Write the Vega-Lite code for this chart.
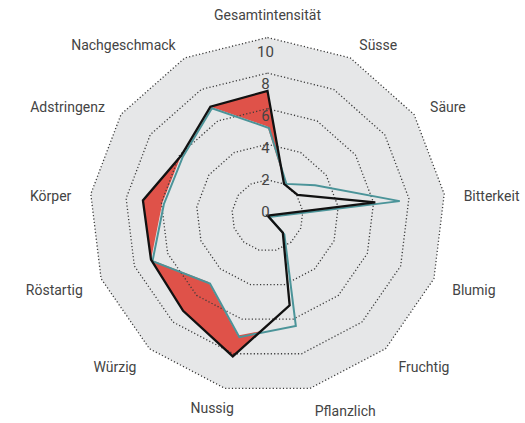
{
  "$schema": "https://vega.github.io/schema/vega-lite/v6.json",
  "width": 525,
  "height": 423,
  "autosize": {"type": "none"},
  "padding": 0,
  "background": "white",
  "config": {"view": {"stroke": null}, "text": {"font": "Roboto"}},
  "datasets": {
    "scores": [
      {"i": 0, "attribute": "Gesamtintensität", "series": "A", "value": 7.0},
      {"i": 1, "attribute": "Süsse", "series": "A", "value": 2.0},
      {"i": 2, "attribute": "Säure", "series": "A", "value": 2.05},
      {"i": 3, "attribute": "Bitterkeit", "series": "A", "value": 6.1},
      {"i": 4, "attribute": "Blumig", "series": "A", "value": 0},
      {"i": 5, "attribute": "Fruchtig", "series": "A", "value": 1.3},
      {"i": 6, "attribute": "Pflanzlich", "series": "A", "value": 5.2},
      {"i": 7, "attribute": "Nussig", "series": "A", "value": 8.15},
      {"i": 8, "attribute": "Würzig", "series": "A", "value": 7.15},
      {"i": 9, "attribute": "Röstartig", "series": "A", "value": 7.0},
      {"i": 10, "attribute": "Körper", "series": "A", "value": 7.05},
      {"i": 11, "attribute": "Adstringenz", "series": "A", "value": 5.9},
      {"i": 12, "attribute": "Nachgeschmack", "series": "A", "value": 6.9},
      {"i": 0, "attribute": "Gesamtintensität", "series": "B", "value": 5.0},
      {"i": 1, "attribute": "Süsse", "series": "B", "value": 2.1},
      {"i": 2, "attribute": "Säure", "series": "B", "value": 3.15},
      {"i": 3, "attribute": "Bitterkeit", "series": "B", "value": 7.4},
      {"i": 4, "attribute": "Blumig", "series": "B", "value": 0},
      {"i": 5, "attribute": "Fruchtig", "series": "B", "value": 1.3},
      {"i": 6, "attribute": "Pflanzlich", "series": "B", "value": 6.3},
      {"i": 7, "attribute": "Nussig", "series": "B", "value": 6.95},
      {"i": 8, "attribute": "Würzig", "series": "B", "value": 5.0},
      {"i": 9, "attribute": "Röstartig", "series": "B", "value": 7.0},
      {"i": 10, "attribute": "Körper", "series": "B", "value": 5.95},
      {"i": 11, "attribute": "Adstringenz", "series": "B", "value": 5.9},
      {"i": 12, "attribute": "Nachgeschmack", "series": "B", "value": 6.9}
    ],
    "rings": [
      {"level": 2, "i": 0}, {"level": 2, "i": 1}, {"level": 2, "i": 2}, {"level": 2, "i": 3}, {"level": 2, "i": 4}, {"level": 2, "i": 5}, {"level": 2, "i": 6}, {"level": 2, "i": 7}, {"level": 2, "i": 8}, {"level": 2, "i": 9}, {"level": 2, "i": 10}, {"level": 2, "i": 11}, {"level": 2, "i": 12},
      {"level": 4, "i": 0}, {"level": 4, "i": 1}, {"level": 4, "i": 2}, {"level": 4, "i": 3}, {"level": 4, "i": 4}, {"level": 4, "i": 5}, {"level": 4, "i": 6}, {"level": 4, "i": 7}, {"level": 4, "i": 8}, {"level": 4, "i": 9}, {"level": 4, "i": 10}, {"level": 4, "i": 11}, {"level": 4, "i": 12},
      {"level": 6, "i": 0}, {"level": 6, "i": 1}, {"level": 6, "i": 2}, {"level": 6, "i": 3}, {"level": 6, "i": 4}, {"level": 6, "i": 5}, {"level": 6, "i": 6}, {"level": 6, "i": 7}, {"level": 6, "i": 8}, {"level": 6, "i": 9}, {"level": 6, "i": 10}, {"level": 6, "i": 11}, {"level": 6, "i": 12},
      {"level": 8, "i": 0}, {"level": 8, "i": 1}, {"level": 8, "i": 2}, {"level": 8, "i": 3}, {"level": 8, "i": 4}, {"level": 8, "i": 5}, {"level": 8, "i": 6}, {"level": 8, "i": 7}, {"level": 8, "i": 8}, {"level": 8, "i": 9}, {"level": 8, "i": 10}, {"level": 8, "i": 11}, {"level": 8, "i": 12},
      {"level": 10, "i": 0}, {"level": 10, "i": 1}, {"level": 10, "i": 2}, {"level": 10, "i": 3}, {"level": 10, "i": 4}, {"level": 10, "i": 5}, {"level": 10, "i": 6}, {"level": 10, "i": 7}, {"level": 10, "i": 8}, {"level": 10, "i": 9}, {"level": 10, "i": 10}, {"level": 10, "i": 11}, {"level": 10, "i": 12}
    ],
    "ticks": [
      {"v": 0, "label": "0"}, {"v": 2, "label": "2"}, {"v": 4, "label": "4"},
      {"v": 6, "label": "6"}, {"v": 8, "label": "8"}, {"v": 10, "label": "10"}
    ]
  },
  "encoding": {
    "x": {"field": "px", "type": "quantitative", "axis": null, "scale": {"domain": [-15.028, 14.466], "nice": false, "zero": false}},
    "y": {"field": "py", "type": "quantitative", "axis": null, "scale": {"domain": [-11.657, 12.107], "nice": false, "zero": false}}
  },
  "resolve": {"scale": {"x": "independent", "y": "independent"}},
  "layer": [
    {
      "data": {"name": "rings"},
      "transform": [
        {"filter": "datum.level == 10"},
        {"calculate": "datum.i * 2 * PI / 13", "as": "a"},
        {"calculate": "datum.level * sin(datum.a)", "as": "px"},
        {"calculate": "datum.level * cos(datum.a)", "as": "py"}
      ],
      "mark": {"type": "line", "interpolate": "linear-closed", "fill": "#e6e7e8", "strokeWidth": 0},
      "encoding": {"order": {"field": "i", "type": "quantitative"}}
    },
    {
      "data": {"name": "scores"},
      "transform": [
        {"filter": "datum.series == 'A'"},
        {"calculate": "datum.i * 2 * PI / 13", "as": "a"},
        {"calculate": "datum.value * sin(datum.a)", "as": "px"},
        {"calculate": "datum.value * cos(datum.a)", "as": "py"}
      ],
      "mark": {"type": "line", "interpolate": "linear-closed", "fill": "#df5249", "strokeWidth": 0},
      "encoding": {"order": {"field": "i", "type": "quantitative"}}
    },
    {
      "data": {"name": "scores"},
      "transform": [
        {"filter": "datum.series == 'B'"},
        {"calculate": "datum.i * 2 * PI / 13", "as": "a"},
        {"calculate": "datum.value * sin(datum.a)", "as": "px"},
        {"calculate": "datum.value * cos(datum.a)", "as": "py"}
      ],
      "mark": {"type": "line", "interpolate": "linear-closed", "fill": "#e6e7e8", "strokeWidth": 0},
      "encoding": {"order": {"field": "i", "type": "quantitative"}}
    },
    {
      "data": {"name": "rings"},
      "transform": [
        {"calculate": "datum.i * 2 * PI / 13", "as": "a"},
        {"calculate": "datum.level * sin(datum.a)", "as": "px"},
        {"calculate": "datum.level * cos(datum.a)", "as": "py"}
      ],
      "mark": {"type": "line", "interpolate": "linear-closed", "stroke": "#3a3a3a", "strokeWidth": 1.3, "strokeDash": [1.2, 2.2]},
      "encoding": {"detail": {"field": "level", "type": "nominal"}, "order": {"field": "i", "type": "quantitative"}}
    },
    {
      "data": {"name": "scores"},
      "transform": [
        {"filter": "datum.series == 'B'"},
        {"calculate": "datum.i * 2 * PI / 13", "as": "a"},
        {"calculate": "datum.value * sin(datum.a)", "as": "px"},
        {"calculate": "datum.value * cos(datum.a)", "as": "py"}
      ],
      "mark": {"type": "line", "interpolate": "linear-closed", "stroke": "#4b9499", "strokeWidth": 2, "strokeJoin": "miter"},
      "encoding": {
        "x": {"field": "px", "type": "quantitative", "axis": null, "scale": {"domain": [-15.112, 14.382], "nice": false, "zero": false}},
        "y": {"field": "py", "type": "quantitative", "axis": null, "scale": {"domain": [-11.573, 12.191], "nice": false, "zero": false}},
        "order": {"field": "i", "type": "quantitative"}
      }
    },
    {
      "data": {"name": "scores"},
      "transform": [
        {"filter": "datum.series == 'A'"},
        {"calculate": "datum.i * 2 * PI / 13", "as": "a"},
        {"calculate": "datum.value * sin(datum.a)", "as": "px"},
        {"calculate": "datum.value * cos(datum.a)", "as": "py"}
      ],
      "mark": {"type": "line", "interpolate": "linear-closed", "stroke": "#111111", "strokeWidth": 2.3, "strokeJoin": "miter"},
      "encoding": {"order": {"field": "i", "type": "quantitative"}}
    },
    {
      "data": {"name": "ticks"},
      "transform": [
        {"calculate": "0", "as": "px"},
        {"calculate": "datum.v * 0.9 + 0.2", "as": "py"}
      ],
      "mark": {"type": "text", "fontSize": 15, "color": "#444444", "align": "center", "baseline": "middle", "dx": -2},
      "encoding": {"text": {"field": "label"}}
    },
    {
      "data": {"name": "scores"},
      "transform": [
        {"filter": "datum.series == 'A' && datum.i >= 1 && datum.i <= 6"},
        {"calculate": "datum.i * 2 * PI / 13", "as": "a"},
        {"calculate": "11.1 * sin(datum.a)", "as": "px"},
        {"calculate": "11.1 * cos(datum.a)", "as": "py"}
      ],
      "mark": {"type": "text", "fontSize": 14, "color": "#444444", "align": "left", "baseline": "middle", "dy": 5},
      "encoding": {"text": {"field": "attribute"}}
    },
    {
      "data": {"name": "scores"},
      "transform": [
        {"filter": "datum.series == 'A' && datum.i >= 8"},
        {"calculate": "datum.i * 2 * PI / 13", "as": "a"},
        {"calculate": "11.1 * sin(datum.a)", "as": "px"},
        {"calculate": "11.1 * cos(datum.a)", "as": "py"}
      ],
      "mark": {"type": "text", "fontSize": 14, "color": "#444444", "align": "right", "baseline": "middle", "dy": 5},
      "encoding": {"text": {"field": "attribute"}}
    },
    {
      "data": {"name": "scores"},
      "transform": [
        {"filter": "datum.series == 'A' && (datum.i == 0 || datum.i == 7)"},
        {"calculate": "datum.i * 2 * PI / 13", "as": "a"},
        {"calculate": "13 * sin(datum.a)", "as": "px"},
        {"calculate": "11.2 * cos(datum.a)", "as": "py"}
      ],
      "mark": {"type": "text", "fontSize": 14, "color": "#444444", "align": "center", "baseline": "middle"},
      "encoding": {"text": {"field": "attribute"}}
    }
  ]
}
